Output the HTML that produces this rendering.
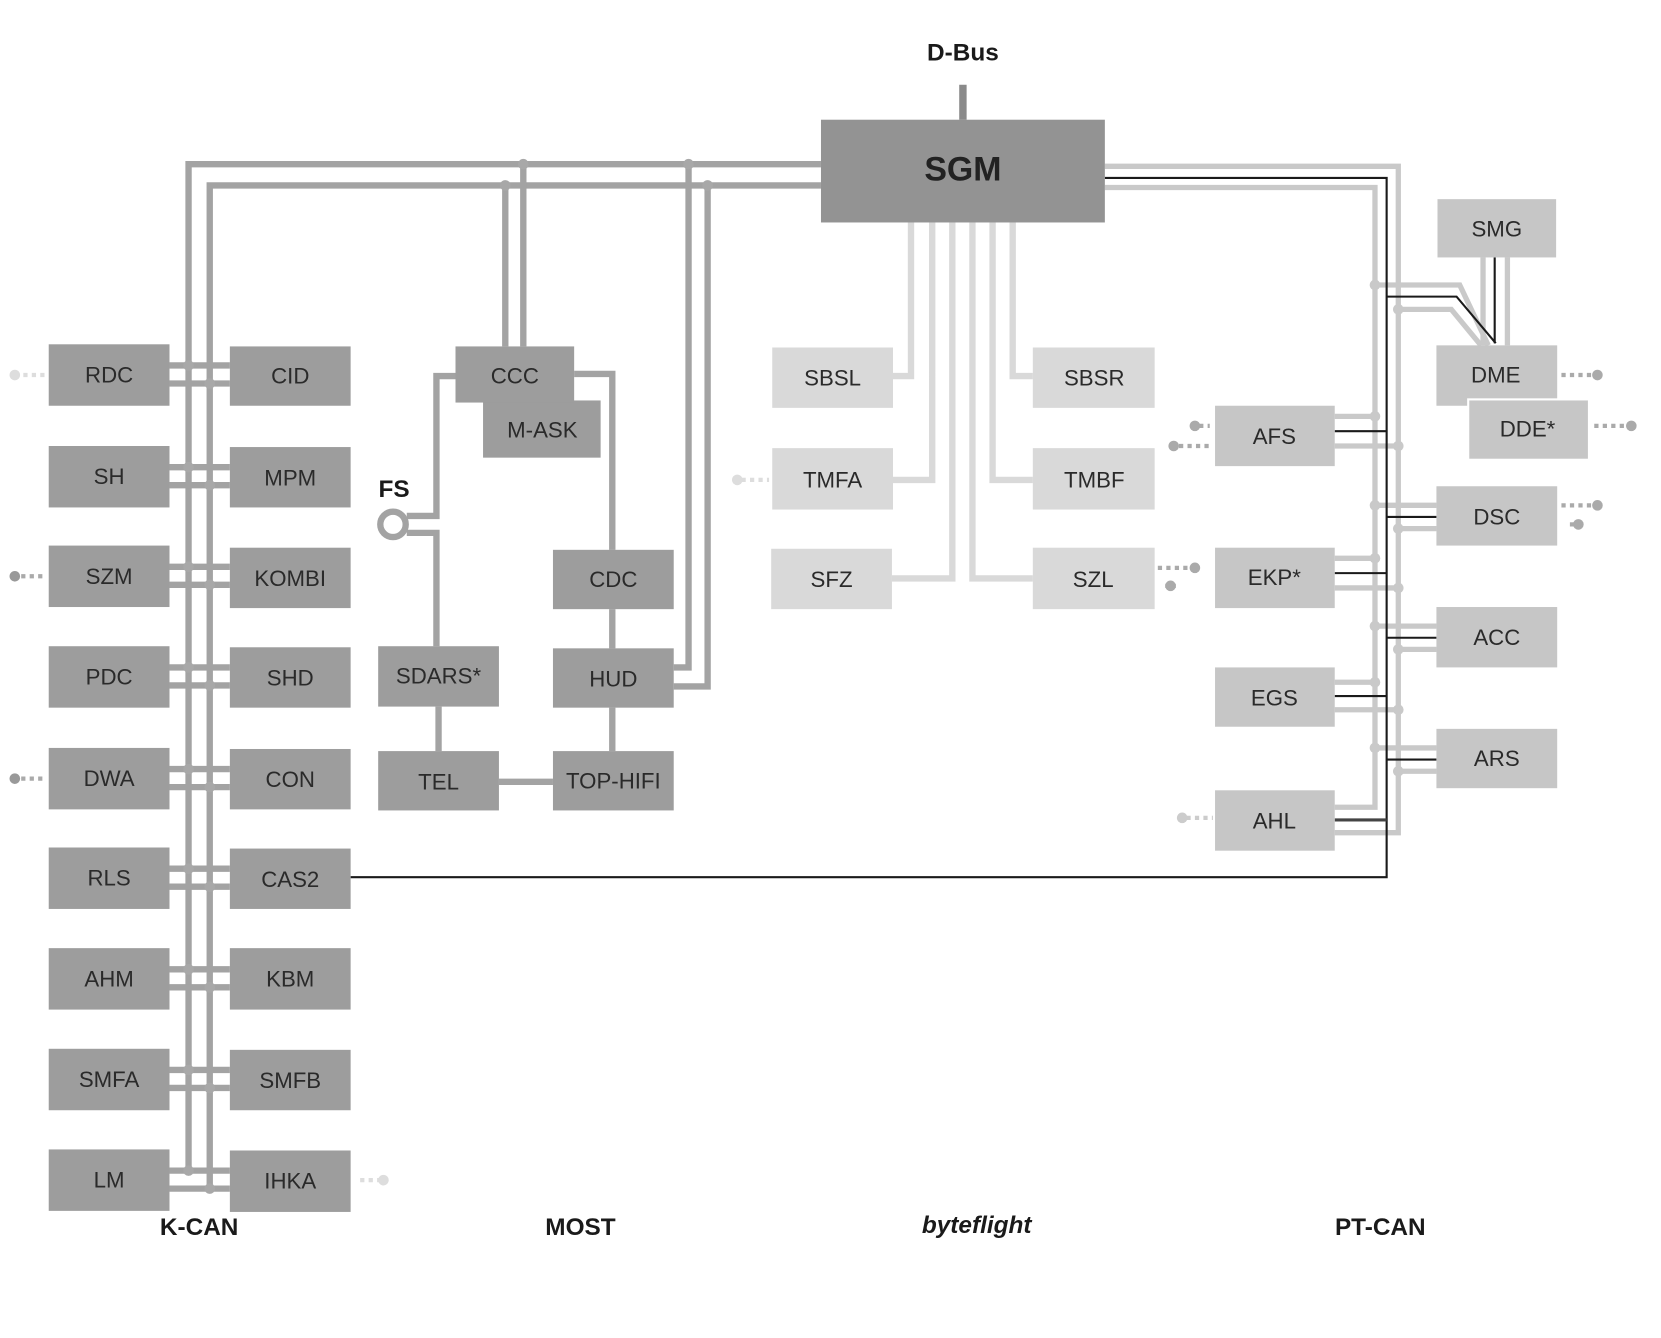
<!DOCTYPE html>
<html><head><meta charset="utf-8"><style>
html,body{margin:0;padding:0;background:#fff;}
svg{display:block}
text{font-family:"Liberation Sans",sans-serif;}
.bt{font-size:21px;fill:#2a2a2a;text-anchor:middle;dominant-baseline:central;}
.lb{font-size:23px;font-weight:bold;fill:#1a1a1a;text-anchor:middle;}
</style></head><body>
<svg width="1661" height="1338" viewBox="0 0 1568 1263" preserveAspectRatio="none" xmlns="http://www.w3.org/2000/svg">
<g fill="none" stroke-linejoin="miter">
<!-- K-CAN buses -->
<g stroke="#a3a3a3" stroke-width="6">
<path d="M775 155 H178 V1105"/>
<path d="M775 175 H198 V1122"/>
<path d="M160 345 H217 M160 362 H217"/>
<path d="M160 441 H217 M160 458 H217"/>
<path d="M160 535 H217 M160 552 H217"/>
<path d="M160 630 H217 M160 647 H217"/>
<path d="M160 726 H217 M160 743 H217"/>
<path d="M160 820 H217 M160 837 H217"/>
<path d="M160 915 H217 M160 932 H217"/>
<path d="M160 1010 H217 M160 1027 H217"/>
<path d="M160 1105 H217 M160 1122 H217"/>
<!-- MOST -->
<path d="M494 155 V327 M477 175 V327"/>
<path d="M650 155 V630 H636 M668 175 V648 H636"/>
<path d="M542 353 H578 V519 M578 575 V612 M578 668 V709 M471 738 H522 M414 667 V709"/>
<path d="M430 355 H412 V487 H384 M384 503 H412 V610"/>
</g>
<circle cx="371" cy="495" r="12" stroke="#a3a3a3" stroke-width="6"/>
<!-- byteflight -->
<g stroke="#d9d9d9" stroke-width="6">
<path d="M860 210 V355 H843 M880 210 V453 H843 M899 210 V546 H842"/>
<path d="M918 210 V546 H975 M937 210 V453 H975 M956 210 V355 H975"/>
</g>
<!-- PT-CAN -->
<g stroke="#c9c9c9" stroke-width="5">
<path d="M1043 157 H1320 V786 H1260"/>
<path d="M1043 177 H1298 V762 H1260"/>
<path d="M1260 393 H1298 M1260 421 H1320"/>
<path d="M1260 527 H1298 M1260 555 H1320"/>
<path d="M1260 644 H1298 M1260 670 H1320"/>
<path d="M1298 477 H1356 M1320 499 H1356"/>
<path d="M1298 591 H1356 M1320 613 H1356"/>
<path d="M1298 706 H1356 M1320 728 H1356"/>
<path d="M1298 269 H1378 L1405 326 M1320 292 H1370 L1398 326"/>
<path d="M1400 243 V326 M1423 243 V326"/>
</g>
<g stroke="#1a1a1a" stroke-width="2">
<path d="M1043 168 H1309 V828 H331"/>
<path d="M1260 407 H1309 M1260 541 H1309 M1260 657 H1309 M1309 488 H1356 M1309 602 H1356 M1309 717 H1356"/>
<path d="M1309 280 H1375 L1412 324 M1411 243 V324"/>
</g>
<path d="M1260 774 H1309" stroke="#444" stroke-width="3"/>
<path d="M909 80 V113" stroke="#8a8a8a" stroke-width="7"/>
</g>
<!-- dots -->
<g fill="#a8a8a8">
<circle cx="178" cy="345" r="5"/><circle cx="198" cy="362" r="5"/>
<circle cx="178" cy="441" r="5"/><circle cx="198" cy="458" r="5"/>
<circle cx="178" cy="535" r="5"/><circle cx="198" cy="552" r="5"/>
<circle cx="178" cy="630" r="5"/><circle cx="198" cy="647" r="5"/>
<circle cx="178" cy="726" r="5"/><circle cx="198" cy="743" r="5"/>
<circle cx="178" cy="820" r="5"/><circle cx="198" cy="837" r="5"/>
<circle cx="178" cy="915" r="5"/><circle cx="198" cy="932" r="5"/>
<circle cx="178" cy="1010" r="5"/><circle cx="198" cy="1027" r="5"/>
<circle cx="178" cy="1105" r="5"/><circle cx="198" cy="1122" r="5"/>
<circle cx="494" cy="155" r="5"/><circle cx="477" cy="175" r="5"/>
<circle cx="650" cy="155" r="5"/><circle cx="668" cy="175" r="5"/>
</g>
<g fill="#c9c9c9">
<circle cx="1298" cy="269" r="5"/><circle cx="1320" cy="292" r="5"/>
<circle cx="1298" cy="393" r="5"/><circle cx="1320" cy="421" r="5"/>
<circle cx="1298" cy="477" r="5"/><circle cx="1320" cy="499" r="5"/>
<circle cx="1298" cy="527" r="5"/><circle cx="1320" cy="555" r="5"/>
<circle cx="1298" cy="591" r="5"/><circle cx="1320" cy="613" r="5"/>
<circle cx="1298" cy="644" r="5"/><circle cx="1320" cy="670" r="5"/>
<circle cx="1298" cy="706" r="5"/><circle cx="1320" cy="728" r="5"/>
</g>
<!-- dotted stubs -->
<g stroke-width="4" stroke-dasharray="4 4" fill="none">
<path d="M22 354 H44" stroke="#ddd"/><path d="M20 544 H44" stroke="#aaa"/><path d="M20 735 H44" stroke="#aaa"/>
<path d="M340 1114 H362" stroke="#ddd"/><path d="M700 453 H726" stroke="#ddd"/>
<path d="M1113 421 H1145" stroke="#aaa"/><path d="M1132 402 H1142" stroke="#aaa"/>
<path d="M1093 536 H1126" stroke="#aaa"/><path d="M1100 553 H1110" stroke="#aaa"/>
<path d="M1120 772 H1145" stroke="#ccc"/>
<path d="M1474 354 H1506" stroke="#aaa"/><path d="M1505 402 H1538" stroke="#aaa"/>
<path d="M1474 477 H1506" stroke="#aaa"/><path d="M1482 495 H1488" stroke="#aaa"/>
</g>
<g>
<circle cx="14" cy="354" r="5" fill="#ddd"/><circle cx="14" cy="544" r="5" fill="#999"/><circle cx="14" cy="735" r="5" fill="#999"/>
<circle cx="362" cy="1114" r="5" fill="#ddd"/><circle cx="696" cy="453" r="5" fill="#ddd"/>
<circle cx="1108" cy="421" r="5" fill="#aaa"/><circle cx="1128" cy="402" r="5" fill="#aaa"/>
<circle cx="1128" cy="536" r="5" fill="#aaa"/><circle cx="1105" cy="553" r="5" fill="#aaa"/>
<circle cx="1116" cy="772" r="5" fill="#ccc"/>
<circle cx="1508" cy="354" r="5" fill="#aaa"/><circle cx="1540" cy="402" r="5" fill="#aaa"/>
<circle cx="1508" cy="477" r="5" fill="#aaa"/><circle cx="1490" cy="495" r="5" fill="#aaa"/>
</g>
<!-- boxes -->
<g fill="#9d9d9d">
<rect x="46" y="325" width="114" height="58"/><rect x="217" y="327" width="114" height="56"/>
<rect x="46" y="421" width="114" height="58"/><rect x="217" y="422" width="114" height="57"/>
<rect x="46" y="515" width="114" height="58"/><rect x="217" y="517" width="114" height="57"/>
<rect x="46" y="610" width="114" height="58"/><rect x="217" y="611" width="114" height="57"/>
<rect x="46" y="706" width="114" height="58"/><rect x="217" y="707" width="114" height="57"/>
<rect x="46" y="800" width="114" height="58"/><rect x="217" y="801" width="114" height="57"/>
<rect x="46" y="895" width="114" height="58"/><rect x="217" y="895" width="114" height="58"/>
<rect x="46" y="990" width="114" height="58"/><rect x="217" y="991" width="114" height="57"/>
<rect x="46" y="1085" width="114" height="58"/><rect x="217" y="1086" width="114" height="58"/>
<rect x="456" y="378" width="111" height="54"/><rect x="430" y="327" width="112" height="53"/>
<rect x="357" y="610" width="114" height="57"/><rect x="357" y="709" width="114" height="56"/>
<rect x="522" y="519" width="114" height="56"/><rect x="522" y="612" width="114" height="56"/><rect x="522" y="709" width="114" height="56"/>
</g>
<rect x="775" y="113" width="268" height="97" fill="#939393"/>
<g fill="#d9d9d9">
<rect x="729" y="328" width="114" height="57"/><rect x="729" y="423" width="114" height="58"/><rect x="728" y="518" width="114" height="57"/>
<rect x="975" y="328" width="115" height="57"/><rect x="975" y="423" width="115" height="58"/><rect x="975" y="517" width="115" height="58"/>
</g>
<g fill="#c6c6c6">
<rect x="1147" y="383" width="113" height="57"/><rect x="1147" y="517" width="113" height="57"/>
<rect x="1147" y="630" width="113" height="56"/><rect x="1147" y="746" width="113" height="57"/>
<rect x="1357" y="188" width="112" height="55"/><rect x="1356" y="326" width="114" height="57"/>
<rect x="1386" y="377" width="114" height="57" stroke="#fff" stroke-width="2"/>
<rect x="1356" y="459" width="114" height="56"/><rect x="1356" y="573" width="114" height="57"/><rect x="1356" y="688" width="114" height="56"/>
</g>
<!-- box labels -->
<g class="bt">
<text x="103" y="354" class="bt">RDC</text><text x="274" y="355" class="bt">CID</text>
<text x="103" y="450" class="bt">SH</text><text x="274" y="451" class="bt">MPM</text>
<text x="103" y="544" class="bt">SZM</text><text x="274" y="546" class="bt">KOMBI</text>
<text x="103" y="639" class="bt">PDC</text><text x="274" y="640" class="bt">SHD</text>
<text x="103" y="735" class="bt">DWA</text><text x="274" y="736" class="bt">CON</text>
<text x="103" y="829" class="bt">RLS</text><text x="274" y="830" class="bt">CAS2</text>
<text x="103" y="924" class="bt">AHM</text><text x="274" y="924" class="bt">KBM</text>
<text x="103" y="1019" class="bt">SMFA</text><text x="274" y="1020" class="bt">SMFB</text>
<text x="103" y="1114" class="bt">LM</text><text x="274" y="1115" class="bt">IHKA</text>
<text x="486" y="355" class="bt">CCC</text><text x="512" y="406" class="bt">M-ASK</text>
<text x="414" y="638" class="bt">SDARS*</text><text x="414" y="738" class="bt">TEL</text>
<text x="579" y="547" class="bt">CDC</text><text x="579" y="641" class="bt">HUD</text><text x="579" y="737" class="bt">TOP-HIFI</text>
<text x="786" y="357" class="bt">SBSL</text><text x="786" y="453" class="bt">TMFA</text><text x="785" y="547" class="bt">SFZ</text>
<text x="1033" y="357" class="bt">SBSR</text><text x="1033" y="453" class="bt">TMBF</text><text x="1032" y="547" class="bt">SZL</text>
<text x="1203" y="412" class="bt">AFS</text><text x="1203" y="545" class="bt">EKP*</text><text x="1203" y="659" class="bt">EGS</text><text x="1203" y="775" class="bt">AHL</text>
<text x="1413" y="216" class="bt">SMG</text><text x="1412" y="354" class="bt">DME</text><text x="1442" y="405" class="bt">DDE*</text>
<text x="1413" y="488" class="bt">DSC</text><text x="1413" y="602" class="bt">ACC</text><text x="1413" y="716" class="bt">ARS</text>
</g>
<text x="909" y="160" style="font-size:32px;font-weight:bold;fill:#222;text-anchor:middle;dominant-baseline:central">SGM</text>
<text x="909" y="57" class="lb">D-Bus</text>
<text x="372" y="469" class="lb">FS</text>
<text x="188" y="1166" class="lb">K-CAN</text>
<text x="548" y="1166" class="lb">MOST</text>
<text x="922" y="1164" class="lb" style="font-style:italic">byteflight</text>
<text x="1303" y="1166" class="lb">PT-CAN</text>
</svg>
</body></html>
